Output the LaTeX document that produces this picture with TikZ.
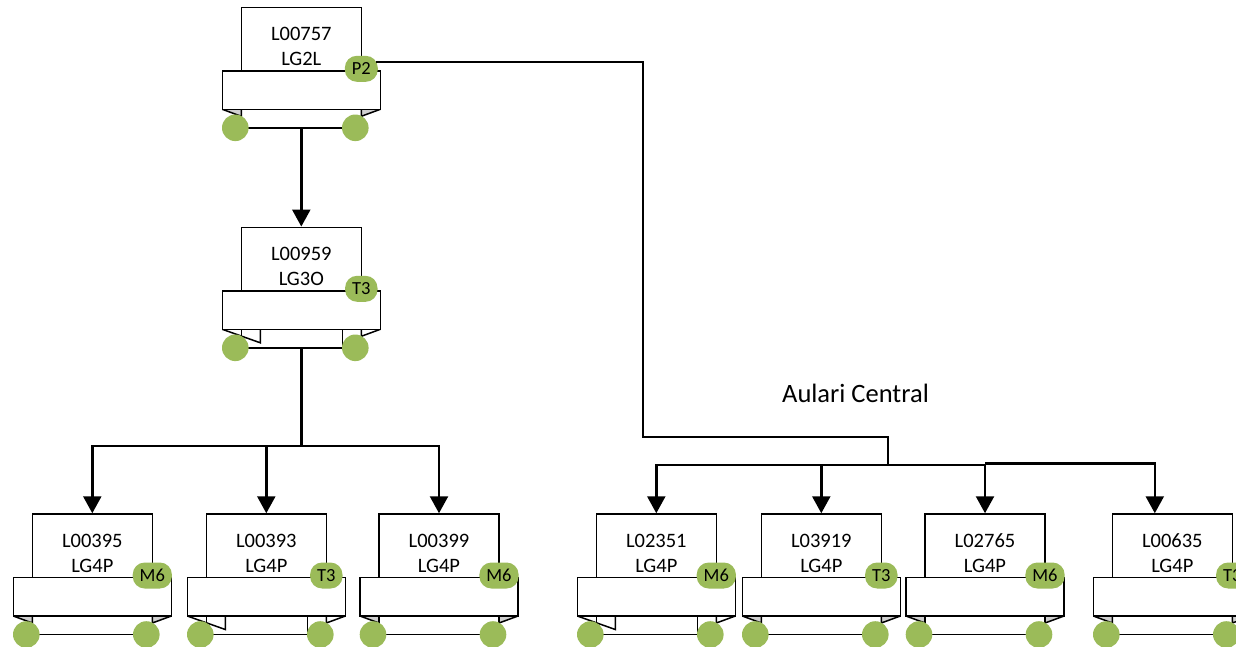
\documentclass[tikz,border=0pt]{standalone}
\usepackage{fontspec}
\setmainfont{Carlito}
\usetikzlibrary{arrows.meta,calc}
\definecolor{lampgreen}{HTML}{9BBB59}
\definecolor{foldgrey}{HTML}{D0D0D0}
% one lamp: name, centre x, top y, code, type, badge, fold
\newcommand{\foldplain}[2]{%
\filldraw[outline,fill=foldgrey] (#1-79,#2+102)--(#1-60,#2+109)--(#1-60,#2+102);
\filldraw[outline,fill=foldgrey] (#1+79,#2+102)--(#1+60,#2+109)--(#1+60,#2+102);
\draw[outline] (#1-60,#2+102)--(#1-60,#2+120.5)--(#1+60,#2+120.5)--(#1+60,#2+102);}
\newcommand{\folddeep}[2]{%
\draw[outline] (#1-79,#2+102)--(#1-41,#2+115.5)--(#1-41,#2+102);
\draw[outline] (#1+79,#2+102)--(#1+60,#2+109)--(#1+60,#2+102);
\draw[outline] (#1-60,#2+102)--(#1-60,#2+120.5)--(#1+41,#2+120.5)--(#1+41,#2+102);}
\newcommand{\lampbox}[7]{%
\node[lampupper] (#1) at (#2,#3+31.75) {};
#7{#2}{#3}
\node[lampband] (#1-band) at (#2,#3+82.75) {};
\coordinate (#1-foot) at (#2,#3+120.5);
\fill[lampfoot] (#2-66,#3+120.5) circle (13.3pt);
\fill[lampfoot] (#2+54,#3+120.5) circle (13.3pt);
\node[lamptext] (#1-text) at (#2,#3+39.5) {#4\\#5};
\node[lampbadge] (#1-badge) at (#2+60,#3+61.5) {#6};}
\tikzset{outline/.style={line width=1.5pt},
lampupper/.style={outline,draw,fill=white,minimum width=120pt,minimum height=63.5pt,inner sep=0pt},
lampband/.style={outline,draw,fill=white,minimum width=158pt,minimum height=38.5pt,inner sep=0pt},
lampfoot/.style={fill=lampgreen},
lampbadge/.style={fill=lampgreen,rounded corners=12pt,minimum height=26pt,inner xsep=7pt,inner ysep=0pt,font=\fontsize{18.5}{18.5}\selectfont},
lamptext/.style={align=center,inner sep=0pt,font=\fontsize{20.5}{25}\selectfont},
feed/.style={line width=2.4pt},
feedarrow/.style={feed,-{Triangle[width=18pt,length=17pt]}}}

\begin{document}
\begin{tikzpicture}[x=1pt,y=-1pt]
\path[use as bounding box,clip] (0,0) rectangle (1236,646);
\lampbox{l00757}{301.3}{7.3}{L00757}{LG2L}{P2}{\foldplain}
\lampbox{l00959}{301.3}{227.3}{L00959}{LG3O}{T3}{\folddeep}
\lampbox{l00395}{92.3}{514}{L00395}{LG4P}{M6}{\foldplain}
\lampbox{l00393}{266.3}{514}{L00393}{LG4P}{T3}{\folddeep}
\lampbox{l00399}{439}{514}{L00399}{LG4P}{M6}{\foldplain}
\lampbox{l02351}{656.3}{514}{L02351}{LG4P}{M6}{\folddeep}
\lampbox{l03919}{821.3}{514}{L03919}{LG4P}{T3}{\foldplain}
\lampbox{l02765}{985}{514}{L02765}{LG4P}{M6}{\foldplain}
\lampbox{l00635}{1172.3}{514}{L00635}{LG4P}{T3}{\foldplain}
\node[anchor=base,font=\fontsize{26.5}{26.5}\selectfont] (site) at (855.5,402.3) {Aulari Central};
% left branch
\coordinate (split) at (301.3,446);
\draw[feedarrow] (l00757-foot) -- (l00959.north);
\draw[feedarrow] (l00959-foot) -- (split) -| (l00395.north);
\draw[feedarrow] (split) -| (l00393.north);
\draw[feedarrow] (split) -| (l00399.north);
% right branch
\coordinate (turn) at (643,437);
\coordinate (hub) at (888,465);
\draw[feed] ([xshift=-2pt,yshift=7pt]l00757-badge.east) -| (turn) -| (hub);
\draw[feedarrow] (hub) -| (l02351.north);
\draw[feedarrow] (hub) -| (l03919.north);
\draw[feedarrow] (hub) -| (l02765.north);
\draw[feedarrow] ($(hub -| l02765.north)+(0,-1.5)$) -| ([xshift=-17.5pt]l00635.north);
\end{tikzpicture}
\end{document}
